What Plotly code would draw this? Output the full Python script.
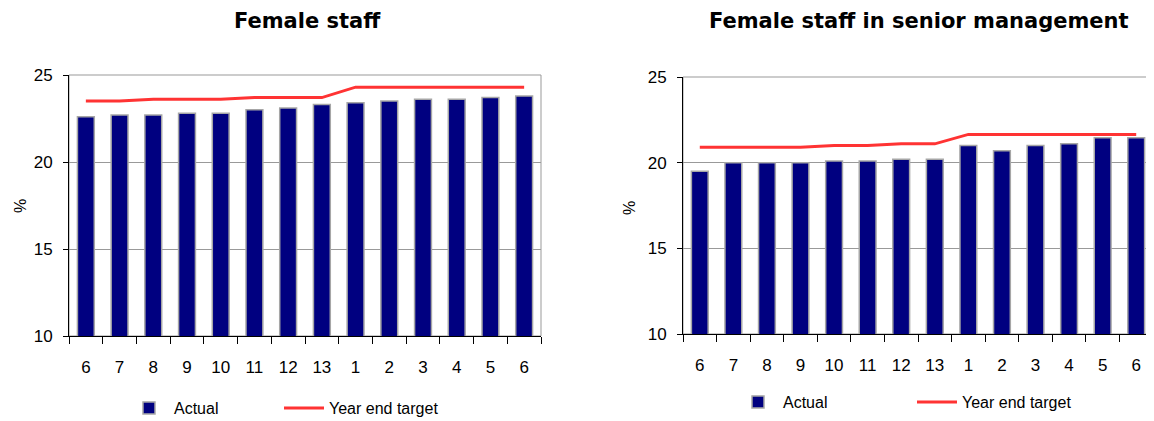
import plotly.graph_objects as go

periods = ["6", "7", "8", "9", "10", "11", "12", "13", "1", "2", "3", "4", "5", "6"]
cats = [f"{i}" for i in range(len(periods))]  # unique positions, labels from periods

staff_actual = [22.6, 22.7, 22.7, 22.8, 22.8, 23.0, 23.1, 23.3, 23.4, 23.5, 23.6, 23.6, 23.7, 23.8]
staff_target = [23.5, 23.5, 23.6, 23.6, 23.6, 23.7, 23.7, 23.7, 24.3, 24.3, 24.3, 24.3, 24.3, 24.3]

senior_actual = [19.5, 20.0, 20.0, 20.0, 20.1, 20.1, 20.2, 20.2, 21.0, 20.7, 21.0, 21.1, 21.45, 21.45]
senior_target = [20.9, 20.9, 20.9, 20.9, 21.0, 21.0, 21.1, 21.1, 21.65, 21.65, 21.65, 21.65, 21.65, 21.65]

titles = ["Female staff", "Female staff in senior management"]
y_ticks = [10, 15, 20, 25]

# page is 1154x421, the html body has an 8px margin
OFF = 8
W, H = 1154 - OFF, 421 - OFF
BAR_COLOR = "#000080"
LINE_COLOR = "#ff3333"
FONT = "Liberation Sans"

fig = go.Figure()

panels = [
    (staff_actual, staff_target, "x", "y", "legend", 100),
    (senior_actual, senior_target, "x2", "y2", "legend2", 124),
]
for actual, target, xa, ya, lg, lw in panels:
    fig.add_trace(go.Bar(
        x=cats, y=actual, name="Actual", xaxis=xa, yaxis=ya, legend=lg, legendwidth=lw,
        marker=dict(color=BAR_COLOR, line=dict(color="#a6a6a6", width=1.5)),
    ))
    fig.add_trace(go.Scatter(
        x=cats, y=target, name="Year end target", mode="lines", xaxis=xa, yaxis=ya, legend=lg,
        legendwidth=140, line=dict(color=LINE_COLOR, width=3),
    ))


def px_x(p):
    return (p - OFF) / W


def px_y(p):
    return 1 - (p - OFF) / H


axis_common_x = dict(
    type="category", tickmode="array", tickvals=cats, ticktext=periods,
    ticks="outside", ticklen=7, tickcolor="black", tickson="boundaries",
    ticklabelstandoff=16,
    showline=True, linecolor="black", linewidth=1, showgrid=False,
    tickfont=dict(family=FONT, size=17, color="black"), fixedrange=True,
)
axis_common_y = dict(
    range=[10, 25], tickvals=y_ticks, ticks="outside", ticklen=5, tickcolor="black",
    ticklabelstandoff=7,
    showline=True, linecolor="black", linewidth=1,
    showgrid=True, gridcolor="#999999", gridwidth=1, zeroline=False,
    tickfont=dict(family=FONT, size=17, color="black"), fixedrange=True,
)

legend_common = dict(orientation="h", xanchor="left", yanchor="middle",
                     font=dict(family=FONT, size=16, color="black"), itemwidth=40,
                     bgcolor="rgba(0,0,0,0)")

fig.update_layout(
    width=W, height=H, margin=dict(l=0, r=0, t=0, b=0, autoexpand=False),
    paper_bgcolor="white", plot_bgcolor="white",
    bargap=0.5, showlegend=True,
    xaxis=dict(domain=[px_x(69), px_x(541)], anchor="y", **axis_common_x),
    yaxis=dict(domain=[px_y(336), px_y(75)], anchor="x", **axis_common_y),
    xaxis2=dict(domain=[px_x(683), px_x(1153)], anchor="y2", **axis_common_x),
    yaxis2=dict(domain=[px_y(334), px_y(77)], anchor="x2", **axis_common_y),
    legend=dict(x=px_x(124), y=px_y(408), **legend_common),
    legend2=dict(x=px_x(733), y=px_y(402), **legend_common),
)

# plot area borders (gray)
for xa, ya in [("x", "y"), ("x2", "y2")]:
    fig.add_shape(type="rect", xref=f"{xa} domain", yref=f"{ya} domain",
                  x0=0, x1=1, y0=0, y1=1, line=dict(color="#999999", width=1), layer="below")

# titles
for txt, cx in zip(titles, [307, 919]):
    fig.add_annotation(text=f"<b>{txt}</b>", x=px_x(cx), y=px_y(21), xref="paper", yref="paper",
                       showarrow=False, font=dict(family="DejaVu Sans", size=21, color="black"),
                       xanchor="center", yanchor="middle")

# y-axis labels
for cx, cy in [(20, 206), (630, 208)]:
    fig.add_annotation(text="%", x=px_x(cx), y=px_y(cy), xref="paper", yref="paper",
                       showarrow=False, textangle=-90, font=dict(family=FONT, size=16, color="black"),
                       xanchor="center", yanchor="middle")

fig.write_html("out.html")
